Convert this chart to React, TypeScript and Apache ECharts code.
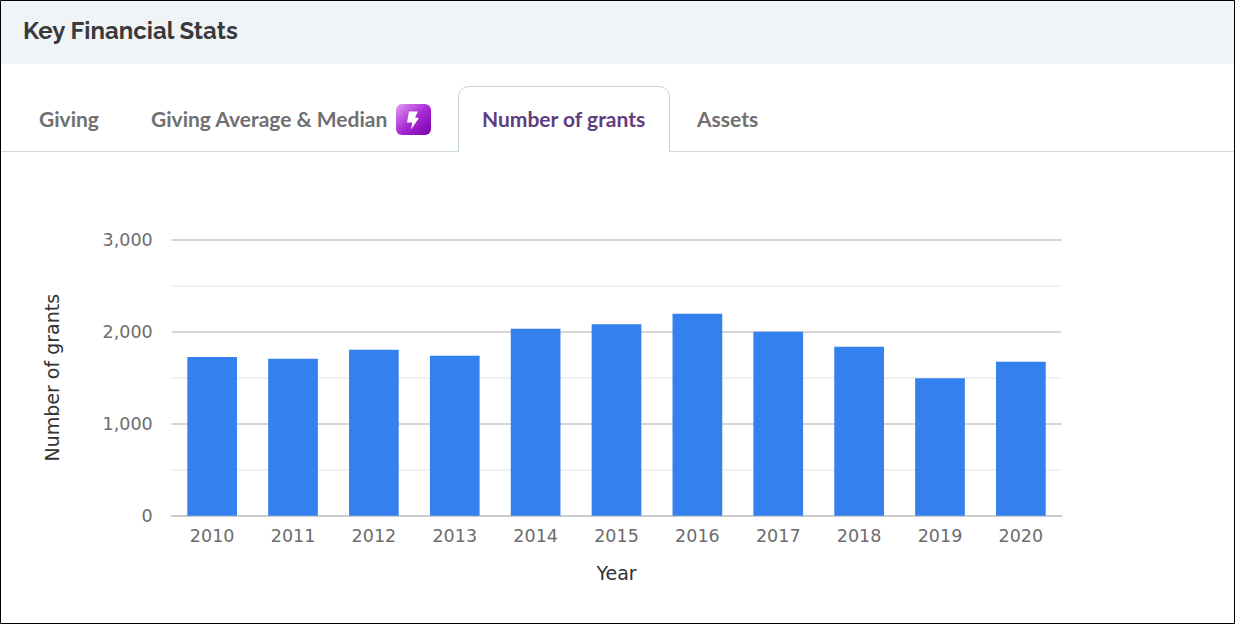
import React, { useEffect, useRef } from "react";
import * as echarts from "echarts";

const years = ["2010", "2011", "2012", "2013", "2014", "2015", "2016", "2017", "2018", "2019", "2020"];
const grants = [1725, 1706, 1804, 1739, 2033, 2080, 2196, 2000, 1837, 1495, 1674];
const yTicks = { min: 0, max: 3000, interval: 1000 };
const titleText = "Key Financial Stats";
const tabs = ["Giving", "Giving Average & Median", "Number of grants", "Assets"];
const yName = "Number of grants";
const xName = "Year";

echarts.graphic.registerShape(
  "boltIcon",
  echarts.graphic.extendPath("M2 0 L11 0 L8 6 L12 6.5 L4 18 L5.2 11 L0 11 Z", {})
);

const axisFont = "DejaVu Sans";

export default function App() {
  const ref = useRef<HTMLDivElement>(null);
  useEffect(() => {
    document.body.style.margin = "0";
    const chart = echarts.init(ref.current!, null, { renderer: "svg" });
    const tabStyle = { fontFamily: "Lato", fontSize: 21, fontWeight: 700, fill: "#707070" };
    chart.setOption({
      animation: false,
      backgroundColor: "#ffffff",
      textStyle: { fontFamily: axisFont },
      grid: { left: 171.7, top: 239.7, width: 889.6, height: 276, containLabel: false },
      xAxis: {
        type: "category",
        data: years,
        name: xName,
        nameLocation: "middle",
        nameGap: 48,
        nameTextStyle: { color: "#333333", fontSize: 19, fontFamily: axisFont },
        axisLine: { show: true, lineStyle: { color: "#cccccc", width: 2 } },
        axisTick: { show: false },
        axisLabel: { color: "#6c6c6c", fontSize: 17.5, margin: 11, fontFamily: axisFont },
      },
      yAxis: {
        type: "value",
        min: yTicks.min,
        max: yTicks.max,
        interval: yTicks.interval,
        name: yName,
        nameLocation: "middle",
        nameGap: 110,
        nameRotate: 90,
        nameTextStyle: { color: "#333333", fontSize: 19, fontFamily: axisFont },
        axisLine: { show: false },
        axisTick: { show: false },
        minorTick: { show: false, splitNumber: 2 },
        axisLabel: {
          color: "#6c6c6c",
          fontSize: 17.5,
          margin: 19,
          fontFamily: axisFont,
          formatter: (v: number) => v.toLocaleString("en-US"),
        },
        splitLine: { show: true, lineStyle: { color: "#c8c8c8", width: 1.5 } },
        minorSplitLine: { show: true, lineStyle: { color: "#ececec", width: 1.5 } },
      },
      series: [
        {
          type: "bar",
          data: grants,
          barWidth: 49.7,
          itemStyle: { color: "#3380ee" },
          z: 3,
        },
      ],
      graphic: [
        { type: "rect", silent: true, z: 10, shape: { x: 1, y: 1, width: 1233, height: 63 }, style: { fill: "#f0f4f7" } },
        { type: "text", z: 11, x: 23, y: 30, style: { text: titleText, fontFamily: "Raleway, Lato", fontSize: 24, fontWeight: 700, fill: "#3a3a3a", verticalAlign: "middle" } },
        { type: "line", z: 10, shape: { x1: 1, y1: 151.5, x2: 458, y2: 151.5 }, style: { stroke: "#d3dbdf", lineWidth: 1 } },
        { type: "line", z: 10, shape: { x1: 670, y1: 151.5, x2: 1234, y2: 151.5 }, style: { stroke: "#d3dbdf", lineWidth: 1 } },
        { type: "polyline", z: 10, shape: { points: [[458.5, 152], [458.5, 97], [460, 91], [464, 87.5], [469, 86.5], [659, 86.5], [664, 87.5], [668, 91], [669.5, 97], [669.5, 152]] }, style: { fill: "none", stroke: "#c5d3da", lineWidth: 1 } },
        { type: "text", z: 11, x: 39, y: 118, style: { ...tabStyle, text: tabs[0], verticalAlign: "middle" } },
        { type: "text", z: 11, x: 151, y: 118, style: { ...tabStyle, text: tabs[1], verticalAlign: "middle" } },
        { type: "text", z: 11, x: 482, y: 118, style: { ...tabStyle, fill: "#5f3d7f", text: tabs[2], verticalAlign: "middle" } },
        { type: "text", z: 11, x: 697, y: 118, style: { ...tabStyle, text: tabs[3], verticalAlign: "middle" } },
        {
          type: "rect", z: 11,
          shape: { x: 396, y: 104, width: 35, height: 31, r: 6 },
          style: {
            fill: new echarts.graphic.LinearGradient(0, 0, 1, 1, [
              { offset: 0, color: "#e39bf0" },
              { offset: 0.5, color: "#a92bd6" },
              { offset: 1, color: "#7a00a8" },
            ]),
          },
        },
        { type: "boltIcon", z: 12, x: 407, y: 111.5, style: { fill: "#ffffff" } },
        { type: "rect", silent: true, z: 20, shape: { x: 0.5, y: 0.5, width: 1234, height: 623 }, style: { fill: "none", stroke: "#000000", lineWidth: 1 } },
      ],
    });
    return () => chart.dispose();
  }, []);
  return <div ref={ref} style={{ width: 1235, height: 624 }} />;
}
